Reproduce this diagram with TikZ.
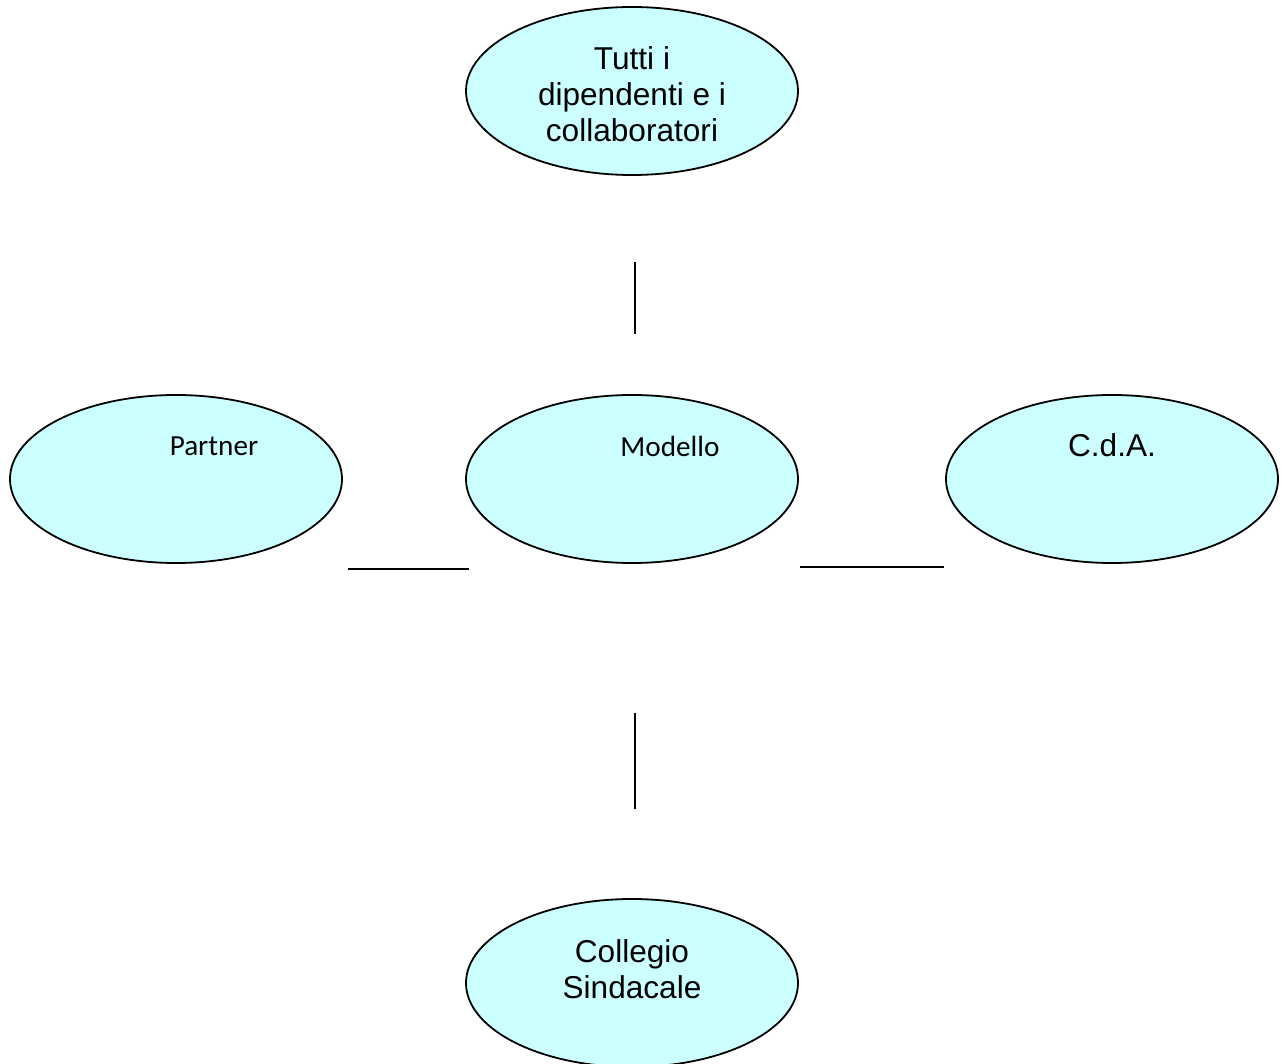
\documentclass[tikz,border=0pt]{standalone}
\usepackage{fontspec}
\setmainfont{Liberation Sans}
\newfontfamily\calibrifont{Carlito}
\usetikzlibrary{shapes.geometric}
\definecolor{bubble}{HTML}{CCFFFF}
\tikzset{
  bubble/.style={ellipse, draw=black, fill=bubble, line width=1.8pt,
    inner sep=0pt, minimum width=332pt, minimum height=168pt},
  arialtext/.style={anchor=base, align=center, inner sep=0pt,
    font=\fontsize{31.6}{36}\selectfont},
  calibritext/.style={anchor=base, inner sep=0pt,
    font=\calibrifont\fontsize{29.2}{34}\selectfont},
  link/.style={draw=black, line width=1.8pt}
}
\begin{document}
\begin{tikzpicture}[x=1pt, y=-1pt]
  \clip (0,0) rectangle (1285,1064);
  \fill[white] (0,0) rectangle (1285,1064);

  % ovals
  \node[bubble] (tutti)    at (632,91)  {};
  \node[bubble] (partner)  at (176,479) {};
  \node[bubble] (modello)  at (632,479) {};
  \node[bubble] (cda)      at (1112,479) {};
  \node[bubble] (collegio) at (632,983) {};

  % labels (base anchor sits on the last line)
  \node[arialtext] (tuttiT) at (632,142) {Tutti i\\dipendenti e i\\collaboratori};
  \node[calibritext] (partnerT) at (214,455) {Partner};
  \node[calibritext] (modelloT) at (670,456) {Modello};
  \node[arialtext] (cdaT) at (1112,456) {C.d.A.};
  \node[arialtext] (collegioT) at (632,998) {Collegio\\Sindacale};

  % free-standing connector strokes
  \coordinate (topA) at (635,262);
  \coordinate (topB) at (635,334);
  \coordinate (leftA) at (348,569);
  \coordinate (leftB) at (469,569);
  \coordinate (rightA) at (800,567);
  \coordinate (rightB) at (944,567);
  \coordinate (botA) at (635,713);
  \coordinate (botB) at (635,809);
  \draw[link] (topA) -- (topB);
  \draw[link] (leftA) -- (leftB);
  \draw[link] (rightA) -- (rightB);
  \draw[link] (botA) -- (botB);
\end{tikzpicture}
\end{document}
